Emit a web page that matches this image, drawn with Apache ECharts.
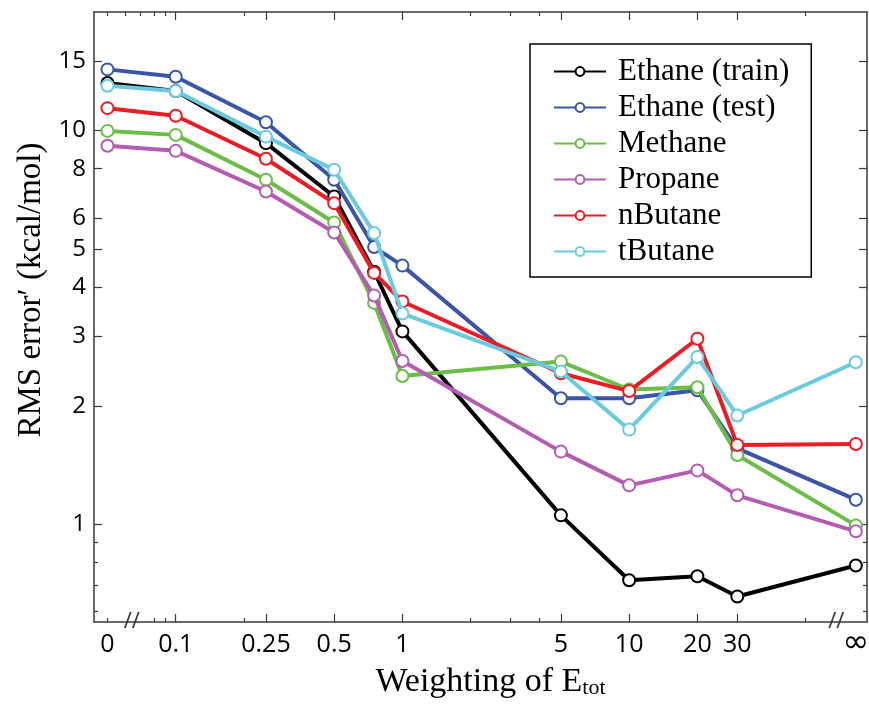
<!DOCTYPE html>
<html>
<head>
<meta charset="utf-8">
<script src="https://cdn.jsdelivr.net/npm/echarts@6/dist/echarts.min.js"></script>
<style>
html, body { margin: 0; padding: 0; background: #fff; }
#main { width: 869px; height: 704px; }
</style>
</head>
<body>
<div id="main"></div>
<script>
// weighting values; "0" and "∞" are placed at 0.05 and 100 on the log axis
var weights   = ['0', '0.1', '0.25', '0.5', '0.75', '1', '5', '10', '20', '30', '∞'];
var weightPos = [0.05, 0.1, 0.25, 0.5, 0.75, 1, 5, 10, 20, 30, 100];

var seriesNames = ['Ethane (train)', 'Ethane (test)', 'Methane', 'Propane', 'nButane', 'tButane'];
var seriesColors = ['#000000', '#3a55a6', '#6abd45', '#b45cb0', '#ed1c24', '#6bcbde'];

var ethaneTrain = [13.2, 12.6, 9.29, 6.80, 4.38, 3.09, 1.054, 0.721, 0.738, 0.656, 0.786];
var ethaneTest  = [14.3, 13.7, 10.5, 7.50, 5.06, 4.54, 2.09, 2.09, 2.19, 1.56, 1.155];
var methane     = [9.98, 9.75, 7.50, 5.84, 3.65, 2.38, 2.59, 2.20, 2.23, 1.50, 0.994];
var propane     = [9.15, 8.88, 7.00, 5.51, 3.81, 2.60, 1.53, 1.256, 1.371, 1.185, 0.960];
var nButane     = [11.4, 10.9, 8.48, 6.54, 4.35, 3.68, 2.42, 2.18, 2.96, 1.59, 1.60];
var tButane     = [13.0, 12.6, 9.65, 7.95, 5.49, 3.43, 2.445, 1.74, 2.66, 1.89, 2.58];

var allValues = [ethaneTrain, ethaneTest, methane, propane, nButane, tButane];

// axis ticks and labels
var xLabelPos  = [0.05, 0.1, 0.25, 0.5, 1, 5, 10, 20, 30, 100];
var xLabelText = ['0', '0.1', '0.25', '0.5', '1', '5', '10', '20', '30', '{inf|∞}'];
var xMajor = [0.1, 0.25, 0.5, 1, 5, 10, 20, 30];
var xMinorBottom = [0.05, 0.08, 0.09, 0.2, 2, 3, 4, 60];
var xMinorTop = [0.05, 0.06, 0.07, 0.08, 0.09, 0.2, 2, 3, 4, 60];
var xBreaks = [0.064, 82];
var yLabels = [1, 2, 3, 4, 5, 6, 8, 10, 15];
var yMinor = [0.6, 0.7, 0.8, 0.9];

var xMin = 0.0436, xMax = 112;
var yMin = 0.565, yMax = 20;

function lg(v) { return Math.log10(v); }

var myChart = echarts.init(document.getElementById('main'));

var frameColor = '#3a3a3a';

function xAxisDef(grid, pos, ticks, len, withLine, withLabels) {
    return {
        type: 'value',
        gridIndex: grid,
        position: pos,
        min: lg(xMin),
        max: lg(xMax),
        splitLine: { show: false },
        axisLine: { show: withLine, onZero: false, lineStyle: { color: frameColor, width: 1.5 } },
        axisTick: { show: true, inside: true, length: len, customValues: ticks.map(lg), lineStyle: { color: frameColor, width: 1.2 } },
        axisLabel: withLabels ? {
            show: true,
            customValues: xLabelPos.map(lg),
            margin: 10,
            color: '#000',
            fontFamily: 'Open Sans',
            fontSize: 25,
            rich: {
                inf: { fontFamily: 'DejaVu Sans', fontSize: 32, lineHeight: 24, color: '#000' }
            },
            formatter: function (v) {
                var best = 0;
                for (var i = 1; i < xLabelPos.length; i++) {
                    if (Math.abs(lg(xLabelPos[i]) - v) < Math.abs(lg(xLabelPos[best]) - v)) best = i;
                }
                return xLabelText[best];
            }
        } : { show: false }
    };
}

function yAxisDef(grid, pos, ticks, len, withLine, withLabels) {
    return {
        type: 'value',
        gridIndex: grid,
        position: pos,
        min: lg(yMin),
        max: lg(yMax),
        splitLine: { show: false },
        axisLine: { show: withLine, onZero: false, lineStyle: { color: frameColor, width: 1.5 } },
        axisTick: { show: true, inside: true, length: len, customValues: ticks.map(lg), lineStyle: { color: frameColor, width: 1.2 } },
        axisLabel: withLabels ? {
            show: true,
            customValues: yLabels.map(lg),
            margin: 8,
            color: '#000',
            fontFamily: 'Open Sans',
            fontSize: 24,
            formatter: function (v) {
                return String(Math.round(Math.pow(10, v)));
            }
        } : { show: false }
    };
}

var xAxes = [
    xAxisDef(0, 'bottom', xMajor, 8, true, true),
    xAxisDef(0, 'top', xMajor, 8, true, false),
    xAxisDef(1, 'bottom', xMinorBottom, 4, false, false),
    xAxisDef(1, 'top', xMinorTop, 4, false, false)
];
xAxes[0].name = 'Weighting of E{sub|tot}';
xAxes[0].nameLocation = 'middle';
xAxes[0].nameGap = 42;
xAxes[0].nameTextStyle = {
    fontFamily: 'Liberation Serif',
    fontSize: 34,
    color: '#000',
    padding: [0, 0, 0, 20],
    rich: {
        sub: { fontFamily: 'Liberation Serif', fontSize: 22, color: '#000', padding: [13, 0, 0, 0] }
    }
};

var yAxes = [
    yAxisDef(0, 'left', yLabels, 8, true, true),
    yAxisDef(0, 'right', yLabels, 8, true, false),
    yAxisDef(1, 'left', yMinor, 4, false, false),
    yAxisDef(1, 'right', yMinor, 4, false, false)
];
yAxes[0].name = 'RMS error\u2032 (kcal/mol)';
yAxes[0].nameLocation = 'middle';
yAxes[0].nameGap = 46;
yAxes[0].nameTextStyle = {
    fontFamily: 'Liberation Serif',
    fontSize: 33,
    color: '#000',
    padding: [0, 0, 0, 54]
};

var series = seriesNames.map(function (name, k) {
    return {
        name: name,
        type: 'line',
        xAxisIndex: 0,
        yAxisIndex: 0,
        data: weightPos.map(function (w, i) { return [lg(w), lg(allValues[k][i])]; }),
        symbol: 'emptyCircle',
        symbolSize: 12,
        color: seriesColors[k],
        lineStyle: { width: 4, color: seriesColors[k] },
        itemStyle: { color: seriesColors[k], borderColor: seriesColors[k], borderWidth: 3 },
        z: 2 + k
    };
});

option = {
    animation: false,
    backgroundColor: '#fff',
    grid: [
        { left: 94, right: 2, top: 12, bottom: 82, outerBoundsMode: 'none' },
        { left: 94, right: 2, top: 12, bottom: 82, outerBoundsMode: 'none' }
    ],
    legend: {
        data: seriesNames,
        orient: 'vertical',
        left: 530,
        top: 44,
        padding: [12, 22, 10, 23],
        itemWidth: 52,
        itemHeight: 11,
        itemGap: 5,
        borderColor: '#000',
        borderWidth: 1.5,
        backgroundColor: '#fff',
        textStyle: {
            fontFamily: 'Liberation Serif',
            fontSize: 31,
            lineHeight: 31,
            color: '#000',
            padding: [0, 0, 0, 7]
        }
    },
    xAxis: xAxes,
    yAxis: yAxes,
    series: series
};

myChart.setOption(option);

// axis break marks on the bottom axis
var breakGraphics = xBreaks.map(function (w) {
    var p = myChart.convertToPixel({ xAxisIndex: 0, yAxisIndex: 0 }, [lg(w), lg(yMin)]);
    return {
        type: 'text',
        x: p[0],
        y: p[1],
        z: 20,
        style: {
            text: '//',
            fontFamily: 'Open Sans',
            fontSize: 22,
            fill: '#333',
            align: 'center',
            verticalAlign: 'middle'
        }
    };
});
myChart.setOption({ graphic: breakGraphics });
</script>
</body>
</html>
